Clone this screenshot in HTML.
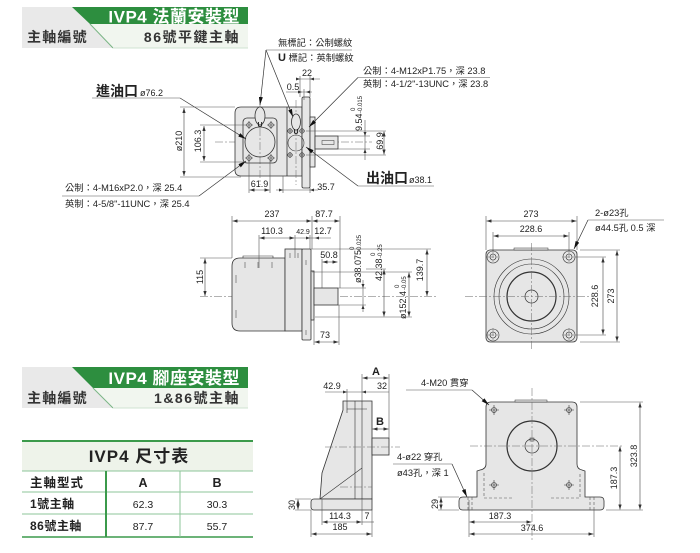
<!DOCTYPE html>
<html><head><meta charset="utf-8"><style>
html,body{margin:0;padding:0;background:#fff;}
svg{display:block;}
text{font-family:"Liberation Sans","Noto Sans CJK TC",sans-serif;fill:#222;}
.d{font-size:9px;}
.s{font-size:6px;}
.l{font-size:9.3px;}
.o{fill:#e6e6e6;stroke:#333;stroke-width:0.8;}
.n{fill:none;stroke:#333;stroke-width:0.8;}
.t{fill:none;stroke:#555;stroke-width:0.6;}
.dm{fill:none;stroke:#444;stroke-width:0.6;marker-start:url(#a);marker-end:url(#a);}
.ld{fill:none;stroke:#333;stroke-width:0.7;marker-end:url(#b);}
.c{fill:none;stroke:#666;stroke-width:0.5;stroke-dasharray:8 2 2 2;}
.h{fill:none;stroke:#555;stroke-width:0.6;stroke-dasharray:3 2;}
</style></head><body>
<svg width="700" height="553" viewBox="0 0 700 553" xmlns="http://www.w3.org/2000/svg">
<defs>
<marker id="a" viewBox="0 0 6 4" refX="6" refY="2" markerWidth="5" markerHeight="3.4" markerUnits="userSpaceOnUse" orient="auto-start-reverse"><path d="M0,0 L6,2 L0,4 z" fill="#333"/></marker>
<marker id="b" viewBox="0 0 8 4" refX="8" refY="2" markerWidth="8" markerHeight="4" markerUnits="userSpaceOnUse" orient="auto"><path d="M0,0 L8,2 L0,4 z" fill="#111"/></marker>
</defs>

<!-- Header 1 -->
<rect x="22" y="7" width="226" height="41" fill="#e9e9e9"/>
<polygon points="72,7 248,7 248,24 90,24" fill="#2d8e3f"/>
<polygon points="90,24 248,24 248,48 113,48" fill="#f1f6ef"/>
<line x1="90" y1="24" x2="113" y2="48" stroke="#7ab585" stroke-width="1"/>
<line x1="113" y1="48" x2="248" y2="48" stroke="#cfe3d2" stroke-width="1"/>
<text x="240" y="22.5" text-anchor="end" font-size="17" font-weight="bold" style="fill:#fff" letter-spacing="0.5">IVP4 法蘭安裝型</text>
<text x="27" y="42" font-size="14" font-weight="bold" letter-spacing="1.2" style="fill:#333">主軸編號</text>
<text x="240" y="42" text-anchor="end" font-size="14" font-weight="bold" letter-spacing="1.5" style="fill:#333">86號平鍵主軸</text>

<!-- Header 2 -->
<rect x="22" y="367" width="226" height="41" fill="#e9e9e9"/>
<polygon points="72,367 248,367 248,388 93,388" fill="#2d8e3f"/>
<polygon points="93,388 248,388 248,408 113,408" fill="#f1f6ef"/>
<line x1="93" y1="388" x2="113" y2="408" stroke="#7ab585" stroke-width="1"/>
<line x1="113" y1="408" x2="248" y2="408" stroke="#cfe3d2" stroke-width="1"/>
<text x="240" y="384" text-anchor="end" font-size="17" font-weight="bold" style="fill:#fff" letter-spacing="0.5">IVP4 腳座安裝型</text>
<text x="27" y="403" font-size="14" font-weight="bold" letter-spacing="1.2" style="fill:#333">主軸編號</text>
<text x="240" y="403" text-anchor="end" font-size="14" font-weight="bold" letter-spacing="1.5" style="fill:#333">1&amp;86號主軸</text>

<!-- Table -->
<rect x="22" y="441" width="231" height="30" fill="#eef3ea"/>
<line x1="22" y1="441" x2="253" y2="441" stroke="#3b9a4b" stroke-width="2"/>
<line x1="22" y1="471" x2="253" y2="471" stroke="#8cc49a" stroke-width="1"/>
<line x1="22" y1="492" x2="253" y2="492" stroke="#8cc49a" stroke-width="1"/>
<line x1="22" y1="514" x2="253" y2="514" stroke="#8cc49a" stroke-width="1"/>
<line x1="22" y1="537" x2="253" y2="537" stroke="#3b9a4b" stroke-width="1.5"/>
<line x1="106" y1="471" x2="106" y2="537" stroke="#3b9a4b" stroke-width="2"/>
<line x1="180" y1="471" x2="180" y2="537" stroke="#8cc49a" stroke-width="1"/>
<text x="139" y="462" text-anchor="middle" font-size="17" font-weight="bold" letter-spacing="1">IVP4 尺寸表</text>
<text x="30" y="487" font-size="12.5" font-weight="bold" letter-spacing="1">主軸型式</text>
<text x="143" y="487" text-anchor="middle" font-size="12.5" font-weight="bold">A</text>
<text x="217" y="487" text-anchor="middle" font-size="12.5" font-weight="bold">B</text>
<text x="30" y="508" font-size="12" font-weight="bold" letter-spacing="0.5">1號主軸</text>
<text x="143" y="508" text-anchor="middle" font-size="10.5">62.3</text>
<text x="217" y="508" text-anchor="middle" font-size="10.5">30.3</text>
<text x="30" y="530" font-size="12" font-weight="bold" letter-spacing="0.5">86號主軸</text>
<text x="143" y="530" text-anchor="middle" font-size="10.5">87.7</text>
<text x="217" y="530" text-anchor="middle" font-size="10.5">55.7</text>

<!-- ============ Top-left drawing ============ -->
<line class="c" x1="215" y1="142" x2="372" y2="142"/>
<path class="o" d="M241,107 H302 V176 H241 Q235,176 235,170 V113 Q235,107 241,107 Z"/>
<line class="n" x1="287" y1="107" x2="287" y2="176"/>
<rect class="o" x="302" y="97" width="8" height="91" rx="1.5"/>
<rect class="o" x="310" y="117" width="5" height="50"/>
<rect class="o" x="315" y="136" width="23" height="13"/>
<rect class="n" x="322" y="140.5" width="12" height="4" style="stroke-width:0.5"/>
<line class="c" x1="260" y1="100" x2="260" y2="185"/>
<line class="c" x1="296" y1="100" x2="296" y2="185"/>
<rect class="n" x="243" y="118" width="34" height="45" rx="4"/>
<circle class="n" cx="260" cy="142" r="15"/>
<g class="n" style="stroke-width:0.6">
<circle cx="249" cy="125" r="2.3"/><circle cx="271" cy="125" r="2.3"/><circle cx="249" cy="158" r="2.3"/><circle cx="271" cy="158" r="2.3"/>
<path d="M245,125h8M249,121v8M267,125h8M271,121v8M245,158h8M249,154v8M267,158h8M271,154v8"/>
<circle cx="296" cy="143" r="8"/>
<circle cx="290" cy="131" r="2.2"/><circle cx="302" cy="131" r="2.2"/><circle cx="290" cy="155" r="2.2"/><circle cx="302" cy="155" r="2.2"/>
<path d="M287,131h6M290,128v6M299,131h6M302,128v6M287,155h6M290,152v6M299,155h6M302,152v6"/>
</g>
<ellipse class="n" cx="260" cy="116" rx="5" ry="9" style="fill:#e6e6e6"/>
<ellipse class="n" cx="296" cy="122" rx="4.5" ry="8" style="fill:#e6e6e6"/>
<text x="260" y="127" text-anchor="middle" font-size="7" font-weight="bold">U</text>
<text x="296" y="134" text-anchor="middle" font-size="7" font-weight="bold">U</text>

<!-- labels top -->
<text x="278" y="46" class="l">無標記：公制螺紋</text>
<text x="278" y="61" class="l"><tspan font-weight="bold" font-size="11">U</tspan> 標記：英制螺紋</text>
<line class="t" x1="266" y1="50" x2="352" y2="50"/>
<line class="ld" x1="266" y1="50" x2="260" y2="105"/>
<line class="ld" x1="266" y1="50" x2="293" y2="117"/>

<text x="363" y="74" class="l">公制：4-M12xP1.75，深 23.8</text>
<text x="363" y="87" class="l">英制：4-1/2"-13UNC，深 23.8</text>
<line class="t" x1="358" y1="77.5" x2="490" y2="77.5"/>
<line class="ld" x1="358" y1="77.5" x2="309" y2="127"/>

<text x="366" y="183" font-size="14" font-weight="bold">出油口</text>
<text x="409" y="183" class="d">ø38.1</text>
<line class="t" x1="358" y1="186" x2="434" y2="186"/>
<line class="ld" x1="358" y1="186" x2="306" y2="147"/>

<text x="96" y="96" font-size="14" font-weight="bold">進油口</text>
<text x="140" y="96" class="d">ø76.2</text>
<line class="t" x1="92" y1="98" x2="180" y2="98"/>
<line class="ld" x1="180" y1="98" x2="246" y2="139"/>

<text x="65" y="191" class="l">公制：4-M16xP2.0，深 25.4</text>
<text x="65" y="207" class="l">英制：4-5/8"-11UNC，深 25.4</text>
<line class="t" x1="62" y1="196" x2="199" y2="196"/>
<line class="ld" x1="199" y1="196" x2="246" y2="161"/>

<!-- dims top-left -->
<path class="t" d="M180,107H235M180,177H241M200,125H245M200,162H245"/>
<line class="dm" x1="184" y1="108" x2="184" y2="176"/>
<text class="d" transform="translate(182,141) rotate(-90)" text-anchor="middle">ø210</text>
<line class="dm" x1="204" y1="126" x2="204" y2="161"/>
<text class="d" transform="translate(201,141) rotate(-90)" text-anchor="middle">106.3</text>

<path class="t" d="M300,76V97M310,76V97M304,89V100"/>
<line class="t" x1="296" y1="79" x2="320" y2="79"/>
<path d="M300,79 l-4,-1.5 v3z M310,79 l4,-1.5 v3z" fill="#333"/>
<text class="d" x="307" y="76" text-anchor="middle">22</text>
<line class="t" x1="286" y1="92" x2="312" y2="92"/>
<path d="M302,92 l-4,-1.5 v3z M306,92 l4,-1.5 v3z" fill="#333"/>
<text class="d" x="293" y="90" text-anchor="middle">0.5</text>

<path class="t" d="M338,136H370M338,149H370M306,131H386M306,155H386"/>
<line class="t" x1="365" y1="120" x2="365" y2="160"/>
<path d="M365,136 l-1.5,-4 h3z M365,149 l-1.5,4 h3z" fill="#333"/>
<g transform="translate(362,131) rotate(-90)"><text class="d" x="0" y="0">9.54</text><text class="s" x="20" y="-7">0</text><text class="s" x="18" y="0">-0.015</text></g>
<line class="dm" x1="384" y1="131.5" x2="384" y2="154.5"/>
<text class="d" transform="translate(383,141) rotate(-90)" text-anchor="middle">69.9</text>

<path class="t" d="M249,160V193M270,160V193M283,176V193M310,188V193"/>
<line class="dm" x1="249.5" y1="190" x2="269.5" y2="190"/>
<text class="d" x="259.5" y="187" text-anchor="middle">61.9</text>
<line class="t" x1="276" y1="190" x2="318" y2="190"/>
<path d="M283,190 l-4,-1.5 v3z M310,190 l4,-1.5 v3z" fill="#333"/>
<text class="d" x="326" y="190" text-anchor="middle">35.7</text>

<!-- ============ Middle-left drawing ============ -->
<line class="c" x1="200" y1="296.5" x2="438" y2="296.5"/>
<path class="o" d="M240,258 H285 V331 H240 Q232,331 232,323 V266 Q232,258 240,258 Z"/>
<path class="n" d="M243,258 v-2 h30 v2" style="stroke-width:0.6"/>
<rect class="o" x="285" y="249" width="17" height="82"/>
<rect class="o" x="302" y="249" width="9" height="91" rx="1"/>
<rect class="o" x="311" y="271" width="3" height="49"/>
<rect class="o" x="314" y="288" width="24" height="17"/>
<path class="n" style="stroke-width:0.5" d="M245,262v6M258,262v6M272,262v6M290,253v5M298,253v5M236,275v8M236,310v8M306,260v5M306,330v5"/>
<!-- dims -->
<path class="t" d="M232,216V258M312,216V249M340,216V288M259,235V268M295,235V258M310,235V249M322,259V288M200,258H232M311,249H431M312,272H412M315,317H412M338,305H366M338,288H366M314,320V345M339,305V345M366,269H386M338,317H386"/>
<line class="dm" x1="232.5" y1="221" x2="311.5" y2="221"/>
<line class="dm" x1="312.5" y1="221" x2="339.5" y2="221"/>
<text class="d" x="272" y="217" text-anchor="middle">237</text>
<text class="d" x="324" y="217" text-anchor="middle">87.7</text>
<line class="dm" x1="259.5" y1="238" x2="294.5" y2="238"/>
<text class="d" x="272" y="234" text-anchor="middle">110.3</text>
<line class="t" x1="295" y1="238" x2="331" y2="238"/>
<path d="M310,238 l-4,-1.5 v3z M315,238 l4,-1.5 v3z" fill="#333"/>
<text x="303" y="234" text-anchor="middle" font-size="7">42.9</text>
<text class="d" x="323" y="234" text-anchor="middle">12.7</text>
<line class="dm" x1="322.5" y1="262" x2="337.5" y2="262"/>
<text class="d" x="329" y="258" text-anchor="middle">50.8</text>
<line class="dm" x1="205" y1="258.5" x2="205" y2="296"/>
<text class="d" transform="translate(203,277) rotate(-90)" text-anchor="middle">115</text>
<line class="t" x1="363" y1="280" x2="363" y2="312"/>
<path d="M363,288 l-1.5,-4 h3z M363,305 l-1.5,4 h3z" fill="#333"/>
<g transform="translate(361,283) rotate(-90)"><text class="d" x="0" y="0">ø38.075</text><text class="s" x="33" y="-7">0</text><text class="s" x="31" y="0">-0.025</text></g>
<line class="dm" x1="384" y1="269.5" x2="384" y2="316.5"/>
<g transform="translate(382,281) rotate(-90)"><text class="d" x="0" y="0">42.38</text><text class="s" x="25" y="-7">0</text><text class="s" x="23" y="0">-0.25</text></g>
<line class="dm" x1="409" y1="272.5" x2="409" y2="316.5"/>
<g transform="translate(406,319) rotate(-90)"><text class="d" x="0" y="0">ø152.4</text><text class="s" x="31" y="-7">0</text><text class="s" x="29" y="0">-0.05</text></g>
<line class="dm" x1="427" y1="249.5" x2="427" y2="296"/>
<text class="d" transform="translate(423,270) rotate(-90)" text-anchor="middle">139.7</text>
<line class="dm" x1="314.5" y1="342" x2="338.5" y2="342"/>
<text class="d" x="325" y="338" text-anchor="middle">73</text>

<!-- ============ Middle-right drawing ============ -->
<rect class="o" x="486" y="250" width="91" height="92" rx="4"/>
<rect class="o" x="514" y="248" width="34" height="2" style="stroke-width:0.5"/>
<circle class="n" cx="531.5" cy="296.5" r="37.5" style="stroke-width:0.6"/>
<circle class="n" cx="531.5" cy="296.5" r="32.5" style="stroke-width:0.6"/>
<circle class="n" cx="531.5" cy="296.5" r="24.5" style="stroke-width:1.2"/>
<circle class="n" cx="531.5" cy="296.5" r="6.5" style="stroke-width:0.7"/>
<g class="n" style="stroke-width:0.6">
<circle cx="493" cy="257" r="6"/><circle cx="493" cy="257" r="3"/>
<circle cx="569" cy="257" r="6"/><circle cx="569" cy="257" r="3"/>
<circle cx="493" cy="335" r="6"/><circle cx="493" cy="335" r="3"/>
<circle cx="569" cy="335" r="6"/><circle cx="569" cy="335" r="3"/>
</g>
<line class="c" x1="465" y1="296.5" x2="592" y2="296.5"/>
<line class="c" x1="531.5" y1="243" x2="531.5" y2="350"/>
<path class="c" d="M493,250V264M569,250V264M493,328V342M569,328V342M486,257H500M562,257H576M486,335H500M562,335H576"/>
<path class="t" d="M486,216V250M577,216V250M493,232V251M569,232V251M575,257H606M575,335H606M580,250H620M580,342H620"/>
<line class="dm" x1="486.5" y1="221" x2="576.5" y2="221"/>
<text class="d" x="531" y="217" text-anchor="middle">273</text>
<line class="dm" x1="493.5" y1="236" x2="568.5" y2="236"/>
<text class="d" x="531" y="232" text-anchor="middle">228.6</text>
<line class="dm" x1="603" y1="257.5" x2="603" y2="334.5"/>
<text class="d" transform="translate(598,296) rotate(-90)" text-anchor="middle">228.6</text>
<line class="dm" x1="617" y1="250.5" x2="617" y2="341.5"/>
<text class="d" transform="translate(614,296) rotate(-90)" text-anchor="middle">273</text>
<text x="595" y="216" class="l">2-ø23孔</text>
<text x="595" y="231" class="l">ø44.5孔  0.5 深</text>
<line class="t" x1="588" y1="220" x2="664" y2="220"/>
<line class="ld" x1="588" y1="220" x2="574" y2="249"/>

<!-- ============ Bottom-middle drawing ============ -->
<path class="o" d="M343,401 H372 V499 H320 L322,473 L343,410 Z"/>
<path class="n" style="stroke-width:0.6" d="M320,499 L362,468 M355,401V499 M362,401V499 M347,401v12 M347,409h20"/>
<path class="o" d="M314,499 H372 V510 H314 Q311,510 311,507 V502 Q311,499 314,499 Z"/>
<rect class="o" x="372" y="438" width="17" height="17"/>
<line class="c" x1="325" y1="447" x2="400" y2="447"/>
<line class="c" x1="340" y1="487" x2="372" y2="487"/>
<path class="t" d="M362,374V401M389,374V438M347,389V401M372,425V438M322,499V525M362,499V525M311,510V537M372,510V537M295,499H311M295,510H311"/>
<line class="dm" x1="362.5" y1="378" x2="388.5" y2="378"/>
<text x="376" y="375" text-anchor="middle" font-size="11" font-weight="bold">A</text>
<line class="t" x1="325" y1="392" x2="389" y2="392"/>
<path d="M347,392 l-4,-1.5 v3z M362,392 l4,-1.5 v3z" fill="#333"/>
<text class="d" x="332" y="389" text-anchor="middle">42.9</text>
<text class="d" x="382" y="389" text-anchor="middle">32</text>
<line class="dm" x1="372.5" y1="429" x2="388.5" y2="429"/>
<text x="380" y="425" text-anchor="middle" font-size="11" font-weight="bold">B</text>
<line class="dm" x1="298" y1="499.5" x2="298" y2="509.5"/>
<text class="d" transform="translate(295,505) rotate(-90)" text-anchor="middle">30</text>
<line class="dm" x1="322.5" y1="522" x2="361.5" y2="522"/>
<line class="t" x1="362" y1="522" x2="374" y2="522"/>
<text class="d" x="340" y="519" text-anchor="middle">114.3</text>
<text class="d" x="367" y="519" text-anchor="middle">7</text>
<line class="dm" x1="311.5" y1="534" x2="371.5" y2="534"/>
<text class="d" x="340" y="530" text-anchor="middle">185</text>

<!-- ============ Bottom-right drawing ============ -->
<path class="o" d="M486,407 Q486,402 491,402 H572 Q577,402 577,407 V464 Q577,469 582,470 L585,471 V497 H600 Q604,497 604,501 V506 Q604,510 600,510 H463 Q459,510 459,506 V501 Q459,497 463,497 H477 V471 L480,470 Q486,469 486,464 Z"/>
<rect class="o" x="515" y="400" width="32" height="2" style="stroke-width:0.5"/>
<circle class="n" cx="532" cy="446" r="25" style="stroke-width:1.2"/>
<circle class="n" cx="532" cy="446" r="7" style="stroke-width:0.7"/>
<rect class="n" x="530" y="438" width="4" height="3" style="stroke-width:0.5"/>
<g class="n" style="stroke-width:0.6">
<circle cx="494" cy="410" r="2.5"/><circle cx="569" cy="410" r="2.5"/><circle cx="494" cy="485" r="2.5"/><circle cx="569" cy="485" r="2.5"/>
<path d="M489,410h10M494,405v10M564,410h10M569,405v10M489,485h10M494,480v10M564,485h10M569,480v10"/>
</g>
<path class="h" d="M484,473V498H512M551,498H580V473"/>
<path class="h" d="M468,497V510M472,497V510M590,497V510M594,497V510"/>
<line class="c" x1="532" y1="388" x2="532" y2="540"/>
<line class="c" x1="470" y1="446" x2="623" y2="446"/>
<path class="t" d="M580,402H643M606,510H643M438,497H459M438,510H459M469,500V537M594,510V537"/>
<line class="dm" x1="640" y1="402.5" x2="640" y2="509.5"/>
<text class="d" transform="translate(637,456) rotate(-90)" text-anchor="middle">323.8</text>
<line class="dm" x1="620" y1="446.5" x2="620" y2="509.5"/>
<text class="d" transform="translate(617,478) rotate(-90)" text-anchor="middle">187.3</text>
<line class="dm" x1="441" y1="497.5" x2="441" y2="509.5"/>
<text class="d" transform="translate(438,504) rotate(-90)" text-anchor="middle">29</text>
<line class="dm" x1="469.5" y1="522" x2="531.5" y2="522"/>
<text class="d" x="500" y="519" text-anchor="middle">187.3</text>
<line class="dm" x1="469.5" y1="534" x2="593.5" y2="534"/>
<text class="d" x="532" y="531" text-anchor="middle">374.6</text>
<text x="421" y="386" class="l">4-M20 貫穿</text>
<line class="t" x1="406" y1="390" x2="472" y2="390"/>
<line class="ld" x1="472" y1="390" x2="489" y2="405"/>
<text x="397" y="460" class="l">4-ø22 穿孔</text>
<text x="397" y="476" class="l">ø43孔，深 1</text>
<line class="t" x1="393" y1="464" x2="452" y2="464"/>
<line class="ld" x1="452" y1="464" x2="467" y2="497"/>
</svg>
</body></html>
